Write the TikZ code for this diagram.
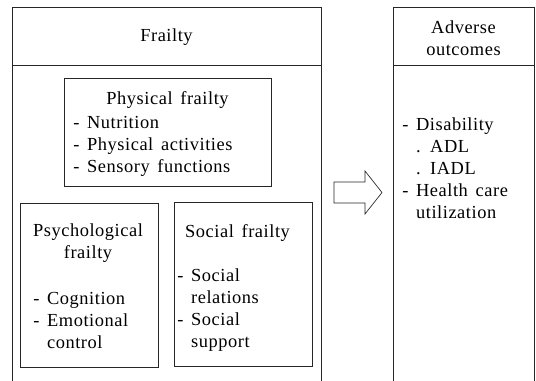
\documentclass[tikz,border=0pt]{standalone}
\usepackage{fontspec}
\setmainfont{Liberation Serif}[LetterSpace=3,WordSpace=1.5]
\begin{document}
\begin{tikzpicture}[
        x=0.75pt, y=-0.75pt, % pixel grid, y runs down
        frame/.style = {draw=black!85, line width=0.6pt},
        sub/.style = {draw=black!85, line width=0.6pt, inner sep=0pt}, % inner boxes
        txt/.style = {inner sep=0pt, align=left, font=\fontsize{13.8}{16.5}\selectfont},
        ttl/.style = {txt, align=center},
    ]
    \useasboundingbox (0,0) rectangle (536,381);

    % Frailty column
    \draw[frame] (12,381) -- (12,7) -- (321,7) -- (321,381);
    \draw[frame] (12,65) -- (321,65);
    \node[ttl] (frailty) at (166.5,37) {Frailty};

    \node[sub, minimum width=155.25pt, minimum height=81pt] (phys) at (167.5,132) {};
    \node[ttl] (physT) at (167.5,100) {Physical frailty};
    \node[txt, anchor=west] (physL) at (73,146) {- Nutrition\\- Physical activities\\- Sensory functions};

    \node[sub, minimum width=103.5pt, minimum height=123pt] (psy) at (89,285) {};
    \node[ttl] (psyT) at (88,243) {Psychological\\frailty};
    \node[txt, anchor=west] (psyL) at (33,320) {- Cognition\\- Emotional\\\phantom{- }control};

    \node[sub, minimum width=103.5pt, minimum height=123pt] (soc) at (243,284.5) {};
    \node[ttl] (socT) at (237.5,233) {Social frailty};
    \node[txt, anchor=west] (socL) at (177,310) {- Social\\\phantom{- }relations\\- Social\\\phantom{- }support};

    % arrow
    \draw[frame, line width=0.5pt] (334,182) -- (365,182) -- (365,171) -- (382,192.5)
        -- (365,214) -- (365,203) -- (334,203) -- cycle;

    % Adverse outcomes column
    \draw[frame] (393,381) -- (393,7) -- (534,7) -- (534,381);
    \draw[frame] (393,65) -- (534,65);
    \node[ttl] (advT) at (463.5,38) {Adverse\\outcomes};
    \node[txt, anchor=west] (advL) at (402,168) {- Disability\\\phantom{- }. ADL\\\phantom{- }. IADL\\- Health care\\\phantom{- }utilization};

\end{tikzpicture}
\end{document}
